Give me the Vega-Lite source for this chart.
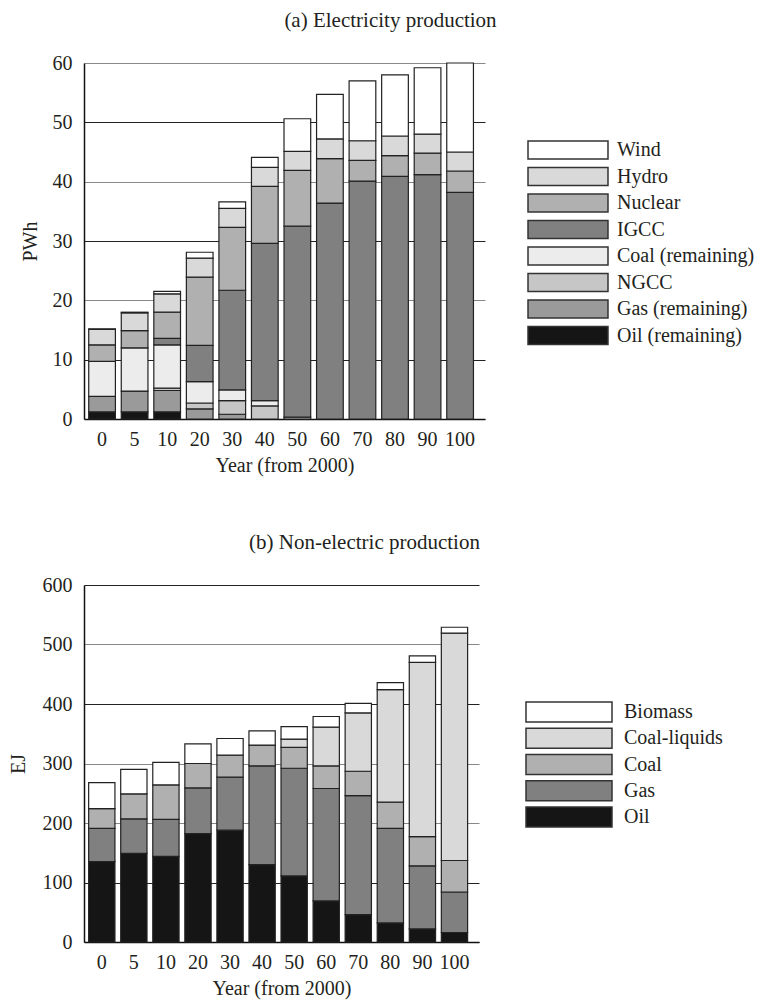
{
  "$schema": "https://vega.github.io/schema/vega-lite/v6.json",
  "background": "white",
  "padding": {"left": 8, "top": 10, "right": 5, "bottom": 5},
  "config": {
    "font": "Liberation Serif",
    "view": {"stroke": null},
    "axis": {
      "labelFont": "Liberation Serif", "labelFontSize": 20, "labelColor": "#231f20",
      "titleFont": "Liberation Serif", "titleFontSize": 20, "titleFontWeight": "normal", "titleColor": "#231f20",
      "domainColor": "#111", "domainWidth": 1.5, "ticks": false
    },
    "legend": {
      "labelFont": "Liberation Serif", "labelFontSize": 20, "labelColor": "#231f20",
      "titleFont": "Liberation Serif"
    },
    "title": {"font": "Liberation Serif", "fontSize": 21, "fontWeight": "normal", "color": "#231f20"}
  },
  "datasets": {
    "elec": [
      {"year": 0, "source": "Oil (remaining)", "k": 1, "value": 1.2},
      {"year": 0, "source": "Gas (remaining)", "k": 2, "value": 2.6},
      {"year": 0, "source": "Coal (remaining)", "k": 4, "value": 5.9},
      {"year": 0, "source": "Nuclear", "k": 6, "value": 2.8},
      {"year": 0, "source": "Hydro", "k": 7, "value": 2.6},
      {"year": 0, "source": "Wind", "k": 8, "value": 0.1},
      {"year": 5, "source": "Oil (remaining)", "k": 1, "value": 1.2},
      {"year": 5, "source": "Gas (remaining)", "k": 2, "value": 3.5},
      {"year": 5, "source": "Coal (remaining)", "k": 4, "value": 7.3},
      {"year": 5, "source": "Nuclear", "k": 6, "value": 2.9},
      {"year": 5, "source": "Hydro", "k": 7, "value": 3.0},
      {"year": 5, "source": "Wind", "k": 8, "value": 0.1},
      {"year": 10, "source": "Oil (remaining)", "k": 1, "value": 1.2},
      {"year": 10, "source": "Gas (remaining)", "k": 2, "value": 3.6},
      {"year": 10, "source": "NGCC", "k": 3, "value": 0.4},
      {"year": 10, "source": "Coal (remaining)", "k": 4, "value": 7.3},
      {"year": 10, "source": "IGCC", "k": 5, "value": 1.1},
      {"year": 10, "source": "Nuclear", "k": 6, "value": 4.4},
      {"year": 10, "source": "Hydro", "k": 7, "value": 3.1},
      {"year": 10, "source": "Wind", "k": 8, "value": 0.4},
      {"year": 20, "source": "Gas (remaining)", "k": 2, "value": 1.7},
      {"year": 20, "source": "NGCC", "k": 3, "value": 1.0},
      {"year": 20, "source": "Coal (remaining)", "k": 4, "value": 3.6},
      {"year": 20, "source": "IGCC", "k": 5, "value": 6.1},
      {"year": 20, "source": "Nuclear", "k": 6, "value": 11.5},
      {"year": 20, "source": "Hydro", "k": 7, "value": 3.2},
      {"year": 20, "source": "Wind", "k": 8, "value": 1.0},
      {"year": 30, "source": "Gas (remaining)", "k": 2, "value": 0.8},
      {"year": 30, "source": "NGCC", "k": 3, "value": 2.3},
      {"year": 30, "source": "Coal (remaining)", "k": 4, "value": 1.8},
      {"year": 30, "source": "IGCC", "k": 5, "value": 16.8},
      {"year": 30, "source": "Nuclear", "k": 6, "value": 10.6},
      {"year": 30, "source": "Hydro", "k": 7, "value": 3.2},
      {"year": 30, "source": "Wind", "k": 8, "value": 1.1},
      {"year": 40, "source": "NGCC", "k": 3, "value": 2.2},
      {"year": 40, "source": "Coal (remaining)", "k": 4, "value": 0.9},
      {"year": 40, "source": "IGCC", "k": 5, "value": 26.5},
      {"year": 40, "source": "Nuclear", "k": 6, "value": 9.6},
      {"year": 40, "source": "Hydro", "k": 7, "value": 3.2},
      {"year": 40, "source": "Wind", "k": 8, "value": 1.7},
      {"year": 50, "source": "NGCC", "k": 3, "value": 0.3},
      {"year": 50, "source": "IGCC", "k": 5, "value": 32.2},
      {"year": 50, "source": "Nuclear", "k": 6, "value": 9.4},
      {"year": 50, "source": "Hydro", "k": 7, "value": 3.2},
      {"year": 50, "source": "Wind", "k": 8, "value": 5.5},
      {"year": 60, "source": "IGCC", "k": 5, "value": 36.4},
      {"year": 60, "source": "Nuclear", "k": 6, "value": 7.5},
      {"year": 60, "source": "Hydro", "k": 7, "value": 3.3},
      {"year": 60, "source": "Wind", "k": 8, "value": 7.5},
      {"year": 70, "source": "IGCC", "k": 5, "value": 40.1},
      {"year": 70, "source": "Nuclear", "k": 6, "value": 3.5},
      {"year": 70, "source": "Hydro", "k": 7, "value": 3.3},
      {"year": 70, "source": "Wind", "k": 8, "value": 10.1},
      {"year": 80, "source": "IGCC", "k": 5, "value": 40.9},
      {"year": 80, "source": "Nuclear", "k": 6, "value": 3.5},
      {"year": 80, "source": "Hydro", "k": 7, "value": 3.3},
      {"year": 80, "source": "Wind", "k": 8, "value": 10.3},
      {"year": 90, "source": "IGCC", "k": 5, "value": 41.2},
      {"year": 90, "source": "Nuclear", "k": 6, "value": 3.6},
      {"year": 90, "source": "Hydro", "k": 7, "value": 3.2},
      {"year": 90, "source": "Wind", "k": 8, "value": 11.2},
      {"year": 100, "source": "IGCC", "k": 5, "value": 38.2},
      {"year": 100, "source": "Nuclear", "k": 6, "value": 3.6},
      {"year": 100, "source": "Hydro", "k": 7, "value": 3.2},
      {"year": 100, "source": "Wind", "k": 8, "value": 15.0}
    ],
    "nonelec": [
      {"year": 0, "source": "Oil", "k": 1, "value": 135},
      {"year": 0, "source": "Gas", "k": 2, "value": 56},
      {"year": 0, "source": "Coal", "k": 3, "value": 33},
      {"year": 0, "source": "Biomass", "k": 5, "value": 44},
      {"year": 5, "source": "Oil", "k": 1, "value": 149},
      {"year": 5, "source": "Gas", "k": 2, "value": 58},
      {"year": 5, "source": "Coal", "k": 3, "value": 42},
      {"year": 5, "source": "Biomass", "k": 5, "value": 41},
      {"year": 10, "source": "Oil", "k": 1, "value": 144},
      {"year": 10, "source": "Gas", "k": 2, "value": 62},
      {"year": 10, "source": "Coal", "k": 3, "value": 58},
      {"year": 10, "source": "Biomass", "k": 5, "value": 38},
      {"year": 20, "source": "Oil", "k": 1, "value": 182},
      {"year": 20, "source": "Gas", "k": 2, "value": 77},
      {"year": 20, "source": "Coal", "k": 3, "value": 41},
      {"year": 20, "source": "Biomass", "k": 5, "value": 33},
      {"year": 30, "source": "Oil", "k": 1, "value": 188},
      {"year": 30, "source": "Gas", "k": 2, "value": 89},
      {"year": 30, "source": "Coal", "k": 3, "value": 37},
      {"year": 30, "source": "Biomass", "k": 5, "value": 28},
      {"year": 40, "source": "Oil", "k": 1, "value": 130},
      {"year": 40, "source": "Gas", "k": 2, "value": 166},
      {"year": 40, "source": "Coal", "k": 3, "value": 35},
      {"year": 40, "source": "Biomass", "k": 5, "value": 24},
      {"year": 50, "source": "Oil", "k": 1, "value": 111},
      {"year": 50, "source": "Gas", "k": 2, "value": 181},
      {"year": 50, "source": "Coal", "k": 3, "value": 35},
      {"year": 50, "source": "Coal-liquids", "k": 4, "value": 14},
      {"year": 50, "source": "Biomass", "k": 5, "value": 21},
      {"year": 60, "source": "Oil", "k": 1, "value": 69},
      {"year": 60, "source": "Gas", "k": 2, "value": 189},
      {"year": 60, "source": "Coal", "k": 3, "value": 38},
      {"year": 60, "source": "Coal-liquids", "k": 4, "value": 65},
      {"year": 60, "source": "Biomass", "k": 5, "value": 18},
      {"year": 70, "source": "Oil", "k": 1, "value": 46},
      {"year": 70, "source": "Gas", "k": 2, "value": 200},
      {"year": 70, "source": "Coal", "k": 3, "value": 41},
      {"year": 70, "source": "Coal-liquids", "k": 4, "value": 98},
      {"year": 70, "source": "Biomass", "k": 5, "value": 16},
      {"year": 80, "source": "Oil", "k": 1, "value": 32},
      {"year": 80, "source": "Gas", "k": 2, "value": 159},
      {"year": 80, "source": "Coal", "k": 3, "value": 44},
      {"year": 80, "source": "Coal-liquids", "k": 4, "value": 189},
      {"year": 80, "source": "Biomass", "k": 5, "value": 12},
      {"year": 90, "source": "Oil", "k": 1, "value": 22},
      {"year": 90, "source": "Gas", "k": 2, "value": 106},
      {"year": 90, "source": "Coal", "k": 3, "value": 49},
      {"year": 90, "source": "Coal-liquids", "k": 4, "value": 293},
      {"year": 90, "source": "Biomass", "k": 5, "value": 11},
      {"year": 100, "source": "Oil", "k": 1, "value": 16},
      {"year": 100, "source": "Gas", "k": 2, "value": 68},
      {"year": 100, "source": "Coal", "k": 3, "value": 53},
      {"year": 100, "source": "Coal-liquids", "k": 4, "value": 382},
      {"year": 100, "source": "Biomass", "k": 5, "value": 10}
    ]
  },
  "vconcat": [
    {
      "title": {"text": "(a) Electricity production", "anchor": "middle", "dx": 106, "offset": 22},
      "width": 401,
      "height": 356,
      "data": {"name": "elec"},
      "mark": {"type": "bar", "stroke": "#222", "strokeWidth": 1.2},
      "encoding": {
        "x": {
          "field": "year", "type": "ordinal", "title": "Year (from 2000)",
          "scale": {"paddingInner": 0.18, "paddingOuter": 0.25, "align": 0.29},
          "axis": {"labelAngle": 0, "labelPadding": 10, "titlePadding": 6}
        },
        "y": {
          "field": "value", "type": "quantitative", "stack": "zero", "title": "PWh",
          "scale": {"domain": [0, 60], "nice": false},
          "axis": {
            "values": [0, 10, 20, 30, 40, 50, 60], "labelPadding": 12, "titlePadding": 12,
            "gridColor": {"condition": {"test": "datum.value % 20 === 0", "value": "#888"}, "value": "#222"},
            "gridWidth": 1.2
          }
        },
        "color": {
          "field": "source", "type": "nominal",
          "scale": {
            "domain": ["Wind", "Hydro", "Nuclear", "IGCC", "Coal (remaining)", "NGCC", "Gas (remaining)", "Oil (remaining)"],
            "range": ["#ffffff", "#d9d9d9", "#b0b0b0", "#808080", "#ececec", "#c6c6c6", "#9a9a9a", "#151515"]
          },
          "legend": {
            "title": null, "orient": "none", "legendX": 474, "legendY": 77,
            "symbolType": "M-4.444,-1H4.444V1H-4.444Z", "symbolSize": 324,
            "symbolStrokeColor": "#333", "symbolStrokeWidth": 1.5, "symbolOpacity": 1,
            "rowPadding": 2.5, "labelOffset": 39
          }
        },
        "order": {"field": "k", "type": "quantitative"}
      }
    },
    {
      "title": {"text": "(b) Non-electric production", "anchor": "middle", "dx": 83, "offset": 22},
      "width": 395,
      "height": 357,
      "data": {"name": "nonelec"},
      "mark": {"type": "bar", "stroke": "#222", "strokeWidth": 1.2},
      "encoding": {
        "x": {
          "field": "year", "type": "ordinal", "title": "Year (from 2000)",
          "scale": {"paddingInner": 0.18, "paddingOuter": 0.25, "align": 0.29},
          "axis": {"labelAngle": 0, "labelPadding": 10, "titlePadding": 6}
        },
        "y": {
          "field": "value", "type": "quantitative", "stack": "zero", "title": "EJ",
          "scale": {"domain": [0, 600], "nice": false},
          "axis": {
            "values": [0, 100, 200, 300, 400, 500, 600], "labelPadding": 12, "titlePadding": 14,
            "gridColor": {"condition": {"test": "datum.value === 200 || datum.value === 300 || datum.value === 500", "value": "#888"}, "value": "#222"},
            "gridWidth": 1.2
          }
        },
        "color": {
          "field": "source", "type": "nominal",
          "scale": {
            "domain": ["Biomass", "Coal-liquids", "Coal", "Gas", "Oil"],
            "range": ["#ffffff", "#d9d9d9", "#b0b0b0", "#808080", "#151515"]
          },
          "legend": {
            "title": null, "orient": "none", "legendX": 474, "legendY": 116,
            "symbolType": "M-4.3,-1H4.3V1H-4.3Z", "symbolSize": 400,
            "symbolStrokeColor": "#333", "symbolStrokeWidth": 1.5, "symbolOpacity": 1,
            "rowPadding": 0.25, "labelOffset": 44
          }
        },
        "order": {"field": "k", "type": "quantitative"}
      }
    }
  ],
  "spacing": 57,
  "resolve": {"scale": {"color": "independent", "x": "independent", "y": "independent"}, "legend": {"color": "independent"}}
}
